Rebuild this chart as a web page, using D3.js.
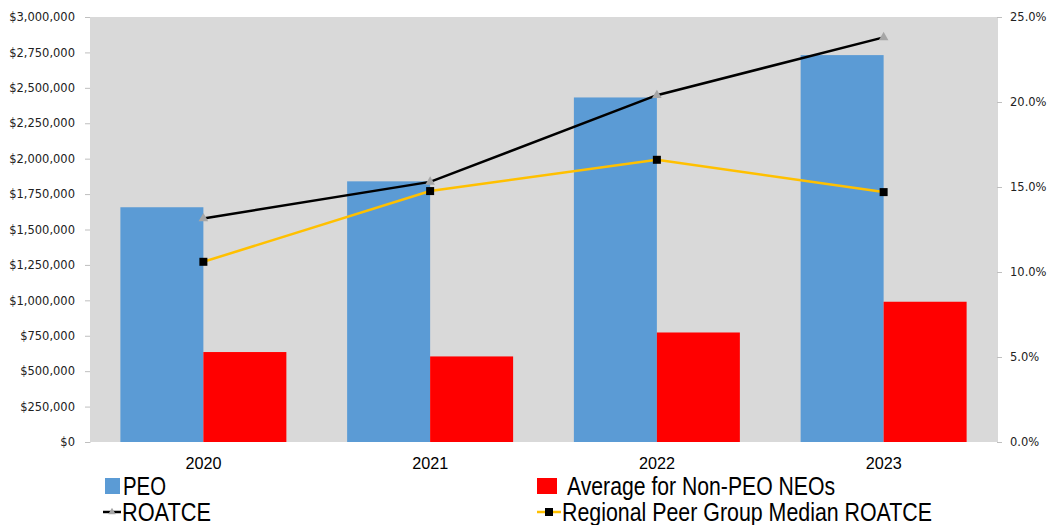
<!DOCTYPE html>
<html>
<head>
<meta charset="utf-8">
<script src="https://cdn.jsdelivr.net/npm/d3@7"></script>
<style>
    body { margin: 0; background: #fff; }
    .tick-label { font-family: "DejaVu Sans", Verdana, sans-serif; font-size: 11.5px; fill: #222; }
    .cat-label { font-family: "Liberation Sans Narrow", "Liberation Sans", Arial, sans-serif; font-size: 16px; fill: #000; }
    .legend-label { font-family: "Liberation Sans Narrow", "Liberation Sans", Arial, sans-serif; font-size: 25px; fill: #000; }
</style>
</head>
<body>
<div id="chart"></div>
<script>
// data
var years = ["2020", "2021", "2022", "2023"];
var peo = [1657000, 1840000, 2432000, 2731000];
var nonPeo = [635000, 604000, 773000, 990000];
var roatce = [13.15, 15.3, 20.4, 23.8];
var peerRoatce = [10.6, 14.76, 16.6, 14.7];
var leftTicks = [0, 250000, 500000, 750000, 1000000, 1250000, 1500000, 1750000, 2000000, 2250000, 2500000, 2750000, 3000000];
var rightTicks = [0, 5, 10, 15, 20, 25];

var W = 1048, H = 525;
var margin = {top: 17, right: 51, bottom: 83, left: 90},
    width = W - margin.left - margin.right,
    height = H - margin.top - margin.bottom;

var svg = d3.select("#chart")
    .append("svg")
    .attr("width", W)
    .attr("height", H);

var g = svg.append("g")
    .attr("transform", "translate(" + margin.left + "," + margin.top + ")");

// scales
var x = d3.scaleBand()
    .domain(years)
    .range([0, width])
    .padding(0);

var x1 = d3.scaleBand()
    .domain(["peo", "non"])
    .range([x.bandwidth() * 0.134, x.bandwidth() * 0.866])
    .padding(0);

var y = d3.scaleLinear()
    .domain([0, 3000000])
    .range([height, 0]);

var y2 = d3.scaleLinear()
    .domain([0, 25])
    .range([height, 0]);

// plot background
g.append("rect")
    .attr("width", width)
    .attr("height", height)
    .attr("fill", "#d9d9d9");

// left axis
var fmtMoney = d3.format("$,.0f");
var leftAxis = g.append("g")
    .call(d3.axisLeft(y).tickValues(leftTicks).tickSize(5).tickPadding(10).tickFormat(fmtMoney));
leftAxis.select(".domain").attr("stroke", "#d9d9d9");
leftAxis.selectAll(".tick line").attr("stroke", "#bfbfbf");
leftAxis.selectAll("text").attr("class", "tick-label").attr("font-family", null).attr("font-size", null);

// right axis
var rightAxis = g.append("g")
    .attr("transform", "translate(" + width + ",0)")
    .call(d3.axisRight(y2).tickValues(rightTicks).tickSize(5).tickPadding(8).tickFormat(function(d) { return d3.format(".1f")(d) + "%"; }));
rightAxis.select(".domain").attr("stroke", "#d9d9d9");
rightAxis.selectAll(".tick line").attr("stroke", "#bfbfbf");
rightAxis.selectAll("text").attr("class", "tick-label").attr("font-family", null).attr("font-size", null);

// bottom axis (labels only)
var bottomAxis = g.append("g")
    .attr("transform", "translate(0," + height + ")")
    .call(d3.axisBottom(x).tickSize(0).tickPadding(16));
bottomAxis.select(".domain").remove();
bottomAxis.selectAll("text")
    .attr("class", "cat-label").attr("font-family", null).attr("font-size", null)
    .attr("textLength", 36).attr("lengthAdjust", "spacingAndGlyphs");

// bars
g.selectAll("rect.peo")
    .data(years)
    .enter()
    .append("rect")
        .attr("class", "peo")
        .attr("x", function(d) { return x(d) + x1("peo"); })
        .attr("y", function(d, i) { return y(peo[i]); })
        .attr("width", x1.bandwidth())
        .attr("height", function(d, i) { return height - y(peo[i]); })
        .attr("fill", "#5b9bd5");

g.selectAll("rect.non")
    .data(years)
    .enter()
    .append("rect")
        .attr("class", "non")
        .attr("x", function(d) { return x(d) + x1("non"); })
        .attr("y", function(d, i) { return y(nonPeo[i]); })
        .attr("width", x1.bandwidth())
        .attr("height", function(d, i) { return height - y(nonPeo[i]); })
        .attr("fill", "#ff0000");

// lines
var cx = function(d, i) { return x(years[i]) + x.bandwidth() / 2; };
var line = d3.line()
    .x(cx)
    .y(function(d) { return y2(d); });

g.append("path")
    .datum(peerRoatce)
    .attr("d", line)
    .attr("fill", "none")
    .attr("stroke", "#ffc000")
    .attr("stroke-width", 2.5);

g.append("path")
    .datum(roatce)
    .attr("d", line)
    .attr("fill", "none")
    .attr("stroke", "#000")
    .attr("stroke-width", 2.5);

var tri = d3.symbol().type(d3.symbolTriangle).size(40);
g.selectAll("path.tri")
    .data(roatce)
    .enter()
    .append("path")
        .attr("class", "tri")
        .attr("d", tri)
        .attr("transform", function(d, i) { return "translate(" + cx(d, i) + "," + y2(d) + ")"; })
        .attr("fill", "#a6a6a6");

g.selectAll("rect.sq")
    .data(peerRoatce)
    .enter()
    .append("rect")
        .attr("class", "sq")
        .attr("x", function(d, i) { return cx(d, i) - 4; })
        .attr("y", function(d) { return y2(d) - 4; })
        .attr("width", 8)
        .attr("height", 8)
        .attr("fill", "#000");

// legend
var legendItems = [
    {label: "PEO", x: 123, y: 486, len: 43},
    {label: "Average for Non-PEO NEOs", x: 567, y: 486, len: 268},
    {label: "ROATCE", x: 122, y: 512, len: 89},
    {label: "Regional Peer Group Median ROATCE", x: 562, y: 512, len: 370}
];
var leg = svg.append("g");

leg.append("rect").attr("x", 105).attr("y", 478).attr("width", 15).attr("height", 16).attr("fill", "#5b9bd5");
leg.append("rect").attr("x", 537).attr("y", 478).attr("width", 20).attr("height", 16).attr("fill", "#ff0000");

leg.append("line").attr("x1", 103).attr("x2", 121).attr("y1", 512).attr("y2", 512).attr("stroke", "#000").attr("stroke-width", 2.5);
leg.append("path").attr("d", d3.symbol().type(d3.symbolTriangle).size(24)).attr("transform", "translate(112,512)").attr("fill", "#a6a6a6");

leg.append("line").attr("x1", 537).attr("x2", 561).attr("y1", 512).attr("y2", 512).attr("stroke", "#ffc000").attr("stroke-width", 2.5);
leg.append("rect").attr("x", 545).attr("y", 508).attr("width", 8).attr("height", 8).attr("fill", "#000");

leg.selectAll("text.legend-label")
    .data(legendItems)
    .enter()
    .append("text")
        .attr("class", "legend-label")
        .attr("x", function(d) { return d.x; })
        .attr("y", function(d) { return d.y; })
        .attr("dy", "0.35em")
        .attr("textLength", function(d) { return d.len; })
        .attr("lengthAdjust", "spacingAndGlyphs")
        .text(function(d) { return d.label; });
</script>
</body>
</html>
